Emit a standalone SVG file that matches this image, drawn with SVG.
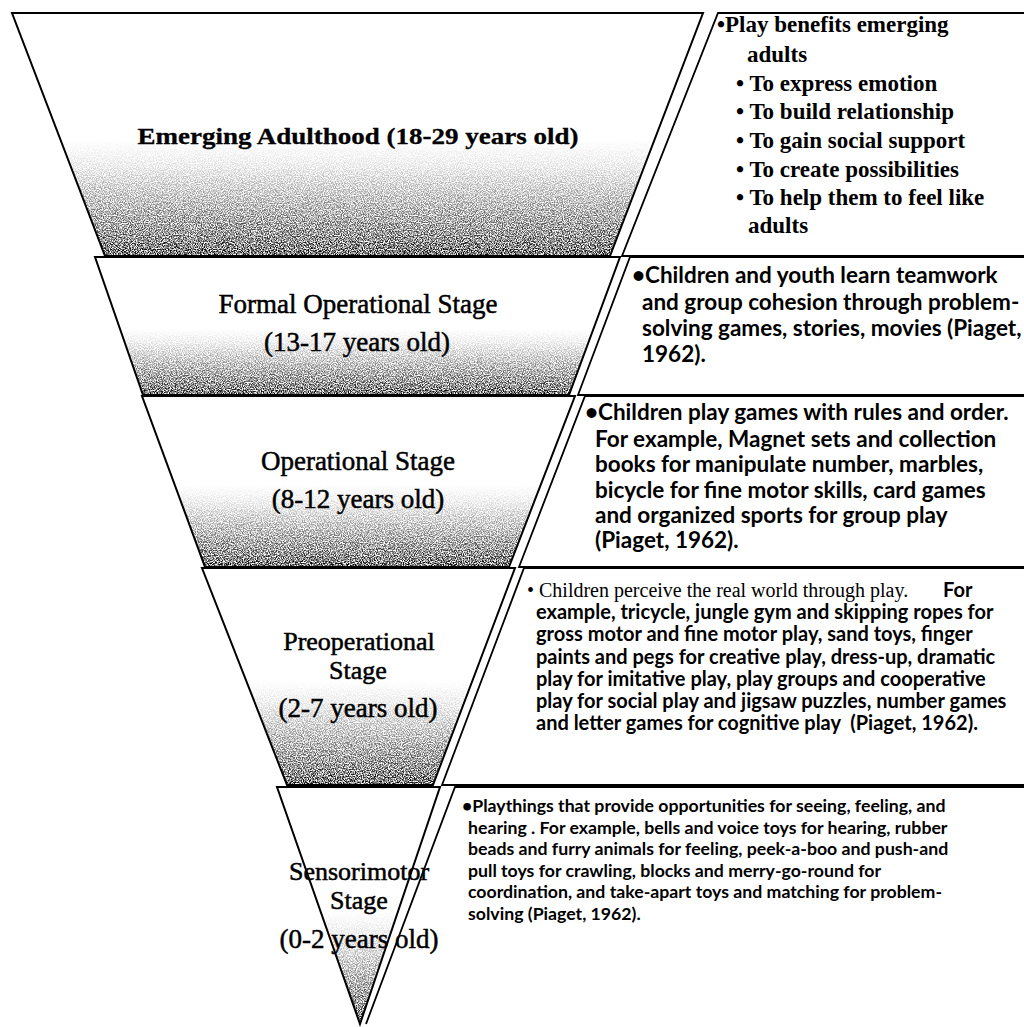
<svg xmlns="http://www.w3.org/2000/svg" width="1024" height="1027" viewBox="0 0 1024 1027">
<defs>
  <linearGradient id="shade" x1="0" y1="0" x2="0" y2="1">
    <stop offset="0" stop-color="#ffffff"/>
    <stop offset="0.52" stop-color="#ffffff"/>
    <stop offset="0.63" stop-color="#eeeeee"/>
    <stop offset="0.78" stop-color="#c4c4c4"/>
    <stop offset="0.92" stop-color="#9a9a9a"/>
    <stop offset="1" stop-color="#7a7a7a"/>
  </linearGradient>
  <filter id="grain" x="0" y="0" width="1" height="1" color-interpolation-filters="sRGB">
    <feTurbulence type="fractalNoise" baseFrequency="0.85" numOctaves="2" seed="7" result="noise"/>
    <feColorMatrix in="noise" type="matrix" values="3 0 0 0 -1  3 0 0 0 -1  3 0 0 0 -1  0 0 0 0 1" result="n"/>
    <feComposite in="SourceGraphic" in2="n" operator="arithmetic" k1="2" k2="0" k3="-2" k4="1" result="c"/>
    <feComposite in="c" in2="SourceAlpha" operator="in"/>
  </filter>
</defs>
<style>
  .fillshade { fill: url(#shade); filter: url(#grain); stroke: none; }
  .edge { fill: none; stroke: #000; stroke-width: 2; stroke-linejoin: miter; }
  .bedge { fill: none; stroke: #000; stroke-width: 1.8; }
  .lab { font-family: "Liberation Serif", "Times New Roman", serif; font-size: 27px; fill: #000; stroke: #000; stroke-width: 0.5; text-anchor: middle; }
  .lab1 { font-weight: bold; font-size: 24px; stroke-width: 0.3; }
  .lab26 { font-size: 26px; }
  .b1 { font-family: "Liberation Serif", "Times New Roman", serif; font-weight: bold; font-size: 23px; fill: #000; }
  .bs { font-family: Lato, "Liberation Sans", sans-serif; font-weight: bold; fill: #000; }
  .s22 { font-size: 22.5px; }
  .s20 { font-size: 20px; }
  .s17 { font-size: 17.7px; }
  .ser20 { font-family: "Liberation Serif", "Times New Roman", serif; font-weight: normal; font-size: 20px; }
</style>
<rect width="1024" height="1027" fill="#ffffff"/>

<g id="level-1">
  <polygon class="fillshade" points="12,13 703,13 610,256 105,256"/>
  <polygon class="edge" points="12,13 703,13 610,256 105,256"/>
  <text class="lab lab1" x="358" y="144" textLength="441" lengthAdjust="spacingAndGlyphs">Emerging Adulthood (18-29 years old)</text>
</g>

<g id="level-2">
  <polygon class="fillshade" points="95,257 620,257 569,395 143,395"/>
  <polygon class="edge" points="95,257 620,257 569,395 143,395"/>
  <text class="lab" x="358" y="313">Formal Operational Stage</text>
  <text class="lab" x="357" y="351">(13-17 years old)</text>
</g>

<g id="level-3">
  <polygon class="fillshade" points="142,396 575,396 509,567 205,567"/>
  <polygon class="edge" points="142,396 575,396 509,567 205,567"/>
  <text class="lab" x="358" y="470">Operational Stage</text>
  <text class="lab" x="358" y="508">(8-12 years old)</text>
</g>

<g id="level-4">
  <polygon class="fillshade" points="202,568 515,568 433,785 287,785"/>
  <polygon class="edge" points="202,568 515,568 433,785 287,785"/>
  <text class="lab lab26" x="359" y="650">Preoperational</text>
  <text class="lab lab26" x="358" y="679">Stage</text>
  <text class="lab" x="358" y="717">(2-7 years old)</text>
</g>

<g id="level-5">
  <polygon class="fillshade" points="277,787 440,787 360,1024"/>
  <polygon class="edge" points="277,787 440,787 360,1024"/>
  <text class="lab lab26" x="359" y="880">Sensorimotor</text>
  <text class="lab lab26" x="359" y="909">Stage</text>
  <text class="lab" x="359" y="948">(0-2 years old)</text>
</g>

<g id="box-1">
  <path class="bedge" d="M1026,13 H718 L622,256 H1026"/>
  <text class="b1">
    <tspan x="717" y="32">•Play benefits emerging</tspan>
    <tspan x="747" y="62">adults</tspan>
    <tspan x="736" y="91">• To express emotion</tspan>
    <tspan x="736" y="119">• To build relationship</tspan>
    <tspan x="736" y="148">• To gain social support</tspan>
    <tspan x="736" y="177">• To create possibilities</tspan>
    <tspan x="736" y="205">• To help them to feel like</tspan>
    <tspan x="748" y="233">adults</tspan>
  </text>
</g>

<g id="box-2">
  <path class="bedge" d="M1026,257 H630 L578,395 H1026"/>
  <text class="bs s22">
    <tspan x="632" y="283">•Children and youth learn teamwork</tspan>
    <tspan x="642" y="310">and group cohesion through problem-</tspan>
    <tspan x="642" y="336">solving games, stories, movies (Piaget,</tspan>
    <tspan x="642" y="362">1962).</tspan>
  </text>
</g>

<g id="box-3">
  <path class="bedge" d="M1026,396 H585 L519,567 H1026"/>
  <text class="bs s22">
    <tspan x="585" y="420">•Children play games with rules and order.</tspan>
    <tspan x="595" y="447">For example, Magnet sets and collection</tspan>
    <tspan x="595" y="472">books for manipulate number, marbles,</tspan>
    <tspan x="595" y="498">bicycle for fine motor skills, card games</tspan>
    <tspan x="595" y="523">and organized sports for group play</tspan>
    <tspan x="595" y="548">(Piaget, 1962).</tspan>
  </text>
</g>

<g id="box-4">
  <path class="bedge" d="M1026,568 H524 L442,785 H1026"/>
  <text class="bs s20" xml:space="preserve"><tspan class="ser20" x="527" y="597">• Children perceive the real world through play.</tspan><tspan x="943" y="597">For</tspan><tspan x="536" y="619">example, tricycle, jungle gym and skipping ropes for</tspan><tspan x="536" y="641">gross motor and fine motor play, sand toys, finger</tspan><tspan x="536" y="664">paints and pegs for creative play, dress-up, dramatic</tspan><tspan x="536" y="686">play for imitative play, play groups and cooperative</tspan><tspan x="536" y="708">play for social play and jigsaw puzzles, number games</tspan><tspan x="536" y="730">and letter games for cognitive play  (Piaget, 1962).</tspan></text>
</g>

<g id="box-5">
  <path class="bedge" d="M1026,787 H455 L366,1024"/>
  <text class="bs s17">
    <tspan x="462" y="812">•Playthings that provide opportunities for seeing, feeling, and</tspan>
    <tspan x="468" y="834">hearing . For example, bells and voice toys for hearing, rubber</tspan>
    <tspan x="468" y="855">beads and furry animals for feeling, peek-a-boo and push-and</tspan>
    <tspan x="468" y="877">pull toys for crawling, blocks and merry-go-round for</tspan>
    <tspan x="468" y="898">coordination, and take-apart toys and matching for problem-</tspan>
    <tspan x="468" y="920">solving (Piaget, 1962).</tspan>
  </text>
</g>
</svg>
